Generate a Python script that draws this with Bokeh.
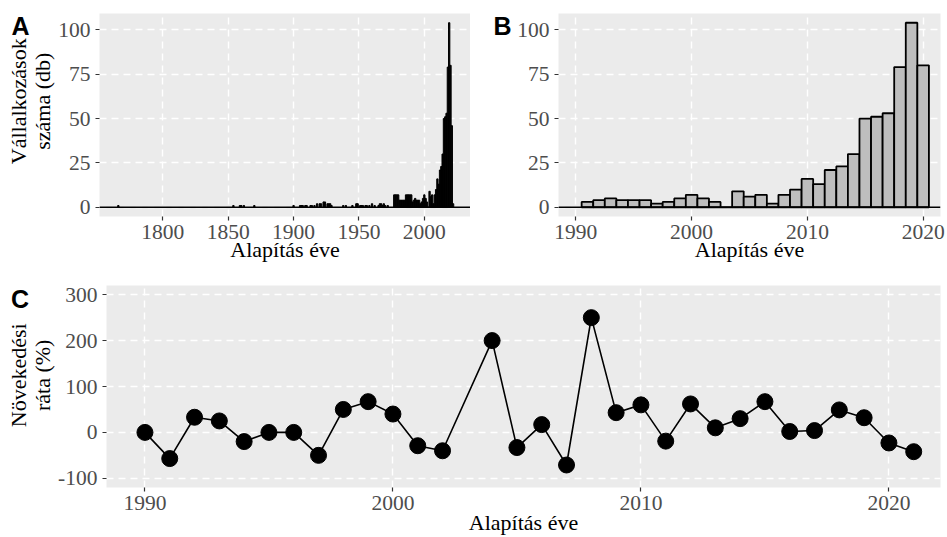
import math
from bokeh.plotting import figure
from bokeh.layouts import column, row
from bokeh.models import Span, FixedTicker, Range1d
from bokeh.core.properties import value
from bokeh.embed import file_html
from bokeh.resources import INLINE

# ---------------- data ----------------
# Panel A: founding year counts (all years)
years_a = [1766, 1854, 1859, 1860, 1862, 1870, 1900, 1905, 1906, 1907, 1909, 1910,
           1913, 1914, 1916, 1918, 1920, 1921, 1923, 1924, 1926, 1927, 1928, 1929,
           1938, 1940, 1945, 1948, 1949, 1951, 1952, 1953, 1955, 1956, 1958, 1960,
           1962, 1965, 1966, 1967, 1968, 1969, 1970, 1972,
           1977, 1978, 1979, 1980, 1981, 1982, 1983, 1984, 1985, 1986, 1987, 1988,
           1989, 1990]
counts_a = [1, 1, 1, 1, 1, 1, 1, 1, 1, 1, 1, 1,
            1, 1, 1, 2, 2, 2, 3, 3, 2, 2, 2, 1,
            1, 1, 1, 2, 2, 1, 1, 1, 1, 1, 1, 2,
            1, 1, 2, 2, 1, 2, 1, 1,
            7, 7, 7, 7, 4, 4, 4, 4, 4, 7, 7, 7,
            7, 7]

# Panel B: 1991-2020
years_b = [1991, 1992, 1993, 1994, 1995, 1996, 1997, 1998, 1999, 2000,
           2001, 2002, 2003, 2004, 2005, 2006, 2007, 2008, 2009, 2010,
           2011, 2012, 2013, 2014, 2015, 2016, 2017, 2018, 2019, 2020]
counts_b = [3, 4, 5, 4, 4, 4, 2, 3, 5, 7,
            5, 3, 0, 9, 6, 7, 2, 7, 10, 16,
            13, 21, 23, 30, 50, 51, 53, 79, 104, 80]

years_a_tail = [2021, 2022]
counts_a_tail = [46, 2]

# Panel C: growth rate (%)
years_c = [1990, 1991, 1992, 1993, 1994, 1995, 1996, 1997, 1998, 1999, 2000,
           2001, 2002, 2004, 2005, 2006, 2007, 2008, 2009, 2010, 2011, 2012,
           2013, 2014, 2015, 2016, 2017, 2018, 2019, 2020, 2021]
rate_c = [0, -57, 33, 25, -20, 0, 0, -50, 50, 67, 40,
          -29, -40, 200, -33, 17, -71, 250, 43, 60, -19, 62,
          10, 30, 67, 2, 4, 49, 32, -23, -42]

a_x_ticks = [1800, 1850, 1900, 1950, 2000]
b_x_ticks = [1990, 2000, 2010, 2020]
count_ticks = [0, 25, 50, 75, 100]
rate_ticks = [-100, 0, 100, 200, 300]

ylab_a = ["Vállalkozások", "száma (db)"]
ylab_c = ["Növekedési", "ráta (%)"]
xlab = "Alapítás éve"

# ---------------- styling ----------------
SERIF = "Liberation Serif"
SANS = "Liberation Sans"
TOP_H = 266
BOT_H = 271


def style(p):
    p.background_fill_color = "#EBEBEB"
    p.border_fill_color = "white"
    p.outline_line_color = None
    for ax in p.axis:
        ax.axis_line_color = None
        ax.major_tick_line_color = "#333333"
        ax.major_tick_line_width = 1.2
        ax.major_tick_in = 0
        ax.major_tick_out = 4
        ax.minor_tick_line_color = None
        ax.major_label_text_font = SERIF
        ax.major_label_text_font_size = "21.5px"
        ax.major_label_text_color = "#4D4D4D"
        ax.axis_label_text_font = SERIF
        ax.axis_label_text_font_size = "22px"
        ax.axis_label_text_font_style = "normal"
        ax.axis_label_text_color = "black"
    p.xaxis.major_label_standoff = 4
    p.xaxis.axis_label_standoff = -5
    p.yaxis.major_label_standoff = 5
    p.grid.grid_line_color = "white"
    p.grid.grid_line_dash = "7 5"
    p.grid.grid_line_width = 1.4
    p.grid.minor_grid_line_color = None


def side(width, height, letter, lx, ly, ylab=None, yc=None):
    s = figure(width=width, height=height, output_backend="svg", toolbar_location=None,
               x_range=Range1d(0, width), y_range=Range1d(0, height),
               x_axis_type=None, y_axis_type=None,
               min_border_left=0, min_border_right=0, min_border_top=0, min_border_bottom=0)
    s.outline_line_color = None
    s.background_fill_color = "white"
    s.border_fill_color = "white"
    s.text(x=[lx], y=[ly], text=[letter], text_font=value(SANS), text_font_style="bold",
           text_font_size="25px", text_baseline="alphabetic", text_align="left",
           text_color="black")
    if ylab:
        s.text(x=[18, 42], y=[yc, yc], text=ylab, angle=math.pi / 2,
               text_font=value(SERIF), text_font_size="22px", text_baseline="alphabetic",
               text_align="center", text_color="black")
    return s


# ---------------- Panel A ----------------
LA = side(55, TOP_H, "A", 11, TOP_H - 16.5, ylab_a, TOP_H - 115)
pA = figure(width=415, height=TOP_H, output_backend="svg", toolbar_location=None,
            x_range=Range1d(1751.6, 2035.3), y_range=Range1d(-5.2, 109.2),
            min_border_left=42, min_border_right=0, min_border_top=13, min_border_bottom=50)
pA.vbar(x=years_a + years_b + years_a_tail, top=counts_a + counts_b + counts_a_tail,
        bottom=0, width=1.0, fill_color="black", line_color="black", line_width=1.0)
pA.add_layout(Span(location=0, dimension="width", line_color="black", line_width=1.6))
style(pA)
pA.xaxis.ticker = FixedTicker(ticks=a_x_ticks)
pA.yaxis.ticker = FixedTicker(ticks=count_ticks)
pA.xaxis.axis_label = xlab

# ---------------- Panel B ----------------
LB = side(44, TOP_H, "B", 23, TOP_H - 16.5)
pB = figure(width=433, height=TOP_H, output_backend="svg", toolbar_location=None,
            x_range=Range1d(1988.5, 2021.5), y_range=Range1d(-5.2, 109.2),
            min_border_left=42, min_border_right=7, min_border_top=13, min_border_bottom=50)
pB.vbar(x=years_b, top=counts_b, bottom=0, width=1.0, fill_color="#BEBEBE",
        line_color="black", line_width=1.8)
pB.add_layout(Span(location=0, dimension="width", line_color="black", line_width=1.6))
style(pB)
pB.xaxis.ticker = FixedTicker(ticks=b_x_ticks)
pB.yaxis.ticker = FixedTicker(ticks=count_ticks)
pB.xaxis.axis_label = xlab

# ---------------- Panel C ----------------
LC = side(55, BOT_H, "C", 10.5, BOT_H - 18, ylab_c, BOT_H - 120.5)
pC = figure(width=892, height=BOT_H, output_backend="svg", toolbar_location=None,
            x_range=Range1d(1988.45, 2022.08), y_range=Range1d(-120, 320),
            min_border_left=48, min_border_right=7, min_border_top=19, min_border_bottom=49)
pC.line(years_c, rate_c, line_color="black", line_width=1.6)
pC.scatter(years_c, rate_c, size=16, fill_color="black", line_color="black")
style(pC)
pC.xaxis.ticker = FixedTicker(ticks=b_x_ticks)
pC.yaxis.ticker = FixedTicker(ticks=rate_ticks)
pC.yaxis.major_label_overrides = {-100: "-100"}
pC.xaxis.axis_label = xlab
pC.xaxis.axis_label_standoff = -3

layout = column(row(LA, pA, LB, pB, spacing=0), row(LC, pC, spacing=0), spacing=0)
open("out.html", "w").write(file_html(layout, INLINE))
